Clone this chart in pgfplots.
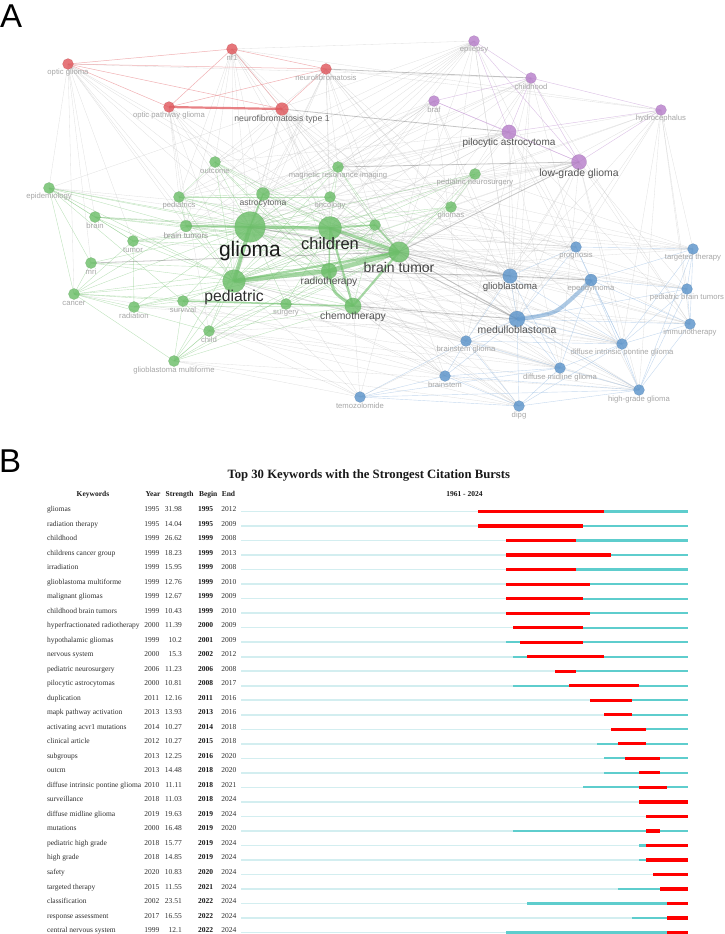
\documentclass[border=0pt]{standalone}
\usepackage{fontspec}
\setmainfont{Liberation Serif}
\setsansfont{Liberation Sans}
\usepackage{pgfplots}
\usepackage{pgfplotstable}
\pgfplotsset{compat=1.18}

% cluster colours of the keyword network
\definecolor{nodered}{HTML}{E0585D}
\definecolor{nodepurple}{HTML}{B77FCA}
\definecolor{nodegreen}{HTML}{6CBE69}
\definecolor{nodeblue}{HTML}{5C94CA}
\definecolor{edgegray}{HTML}{BABABA}
\definecolor{edgedark}{HTML}{7E7E7E}
\definecolor{edgegreen}{HTML}{8ACB87}
\definecolor{edgeblue}{HTML}{9DBFE3}
\definecolor{edgered}{HTML}{E8868A}
\definecolor{edgepurple}{HTML}{C79DD6}
% burst timeline colours
\definecolor{burstlight}{HTML}{D3EEF0}
\definecolor{burstbase}{HTML}{5ECDCD}
\definecolor{burstred}{HTML}{FF0000}

\pgfplotsset{
  edge/.style={quiver={u=\thisrow{x2}-\thisrow{x1}, v=\thisrow{y2}-\thisrow{y1}}},
  netnode/.style={scatter, only marks, mark=*,
    scatter/use mapped color={draw=#1!75!black, draw opacity=0.35, line width=0.3pt, fill=#1, fill opacity=0.82},
    visualization depends on={\thisrow{r} \as \noderad},
    scatter/@pre marker code/.append style={/tikz/mark size=\noderad pt}},
  netlabel/.style={draw=none, nodes near coords, point meta=explicit symbolic,
    visualization depends on={\thisrow{fs} \as \labfs},
    visualization depends on={\thisrow{dy} \as \labdy},
    visualization depends on={\thisrow{tone} \as \labtone},
    nodes near coords style={anchor=center, inner sep=0pt, yshift=-\labdy pt,
      font=\sffamily\fontsize{\labfs}{\labfs}\selectfont, text=black!\labtone}},
  tabtext/.style={draw=none, nodes near coords, point meta=explicit symbolic,
    nodes near coords style={anchor=#1, inner sep=0pt,
      font=\fontsize{7.5}{9}\selectfont, text=black!82}},
}

% keyword network: position, radius, label size, label offset, label tone
\pgfplotstableread[col sep=comma]{
x,y,r,fs,dy,tone,label
68,64,5.5,7.7,9,35,optic glioma
232,49,5.5,7.7,9,35,nf1
326,69,5.5,7.7,9,35,neurofibromatosis
169,107,5.5,7.7,9,35,optic pathway glioma
282,109,6.4,8.7,10,60,neurofibromatosis type 1
}\nodesred
\pgfplotstableread[col sep=comma]{
x,y,r,fs,dy,tone,label
474,41,5.5,7.7,9,35,epilepsy
531,78,5.5,7.7,9,35,childhood
434,101,5.5,7.7,9,35,braf
661,110,5.5,7.7,9,35,hydrocephalus
509,132,7.2,10,11,67,pilocytic astrocytoma
579,162,7.6,10.4,11.5,67,low-grade glioma
}\nodespurple
\pgfplotstableread[col sep=comma]{
x,y,r,fs,dy,tone,label
215,162,5.6,7.7,9,35,outcome
338,167,5.6,7.7,9,35,magnetic resonance imaging
49,188,5.6,7.7,9,35,epidemiology
179,197,5.6,7.7,9,35,pediatrics
263,194,6.6,8.6,10,60,astrocytoma
330,197,5.6,7.7,9,35,oncology
475,174,5.6,7.7,9,35,pediatric neurosurgery
451,207,5.6,7.7,9,35,gliomas
95,217,5.6,7.7,9,35,brain
186,226,5.8,8,9.5,42,brain tumors
250,227,15.3,21,24,90,glioma
330,228,11.6,16.5,16,85,children
375,225,5.6,7.7,9,35,
133,241,5.6,7.7,9,35,tumor
91,263,5.6,7.7,9,35,mri
234,281,11.4,15.7,16,82,pediatric
329,271,7.8,10.2,11,67,radiotherapy
399,252,10.3,14,15,75,brain tumor
74,294,5.6,7.7,9,35,cancer
134,307,5.6,7.7,9,35,radiation
183,301,5.6,7.7,9,35,survival
286,304,5.6,7.7,9,35,surgery
353,306,8.2,10.4,11,67,chemotherapy
209,331,5.6,7.7,9,35,child
174,361,5.6,7.7,9,35,glioblastoma multiforme
}\nodesgreen
\pgfplotstableread[col sep=comma]{
x,y,r,fs,dy,tone,label
360,397,5.5,7.7,9,35,temozolomide
576,247,5.5,7.7,9,35,prognosis
693,249,5.5,7.7,9,35,targeted therapy
510,276,7.3,9.7,11,67,glioblastoma
591,280,6,7.7,9,35,ependymoma
687,289,5.5,7.7,9,35,pediatric brain tumors
517,319,8,10.4,11,67,medulloblastoma
690,324,5.5,7.7,9,35,immunotherapy
466,341,5.5,7.7,9,35,brainstem glioma
622,344,5.5,7.7,9,35,diffuse intrinsic pontine glioma
560,368,5.5,7.7,9,35,diffuse midline glioma
445,376,5.5,7.7,9,35,brainstem
639,390,5.5,7.7,9,35,high-grade glioma
519,406,5.5,7.7,9,35,dipg
}\nodesblue

% citation bursts: row, keyword, first year, strength, burst begin, burst end
\pgfplotstableread[col sep=comma]{
row,kw,yr,str,bgn,fin
1,gliomas,1995,31.98,1995,2012
2,radiation therapy,1995,14.04,1995,2009
3,childhood,1999,26.62,1999,2008
4,childrens cancer group,1999,18.23,1999,2013
5,irradiation,1999,15.95,1999,2008
6,glioblastoma multiforme,1999,12.76,1999,2010
7,malignant gliomas,1999,12.67,1999,2009
8,childhood brain tumors,1999,10.43,1999,2010
9,hyperfractionated radiotherapy,2000,11.39,2000,2009
10,hypothalamic gliomas,1999,10.2,2001,2009
11,nervous system,2000,15.3,2002,2012
12,pediatric neurosurgery,2006,11.23,2006,2008
13,pilocytic astrocytomas,2000,10.81,2008,2017
14,duplication,2011,12.16,2011,2016
15,mapk pathway activation,2013,13.93,2013,2016
16,activating acvr1 mutations,2014,10.27,2014,2018
17,clinical article,2012,10.27,2015,2018
18,subgroups,2013,12.25,2016,2020
19,outcm,2013,14.48,2018,2020
20,diffuse intrinsic pontine glioma,2010,11.11,2018,2021
21,surveillance,2018,11.03,2018,2024
22,diffuse midline glioma,2019,19.63,2019,2024
23,mutations,2000,16.48,2019,2020
24,pediatric high grade,2018,15.77,2019,2024
25,high grade,2018,14.85,2019,2024
26,safety,2020,10.83,2020,2024
27,targeted therapy,2015,11.55,2021,2024
28,classification,2002,23.51,2022,2024
29,response assessment,2017,16.55,2022,2024
30,central nervous system,1999,12.1,2022,2024
}\bursts

\begin{document}
\begin{tikzpicture}
\useasboundingbox (0pt,0pt) rectangle (725pt,-934pt);

\node[anchor=base west, inner sep=0pt, font=\sffamily\fontsize{33}{33}\selectfont] at (0pt,-28pt) {A};
\node[anchor=base west, inner sep=0pt, font=\sffamily\fontsize{33}{33}\selectfont] at (-1pt,-472pt) {B};

% ---------------- co-occurrence network ----------------
\begin{axis}[at={(0pt,0pt)}, anchor=north west, x=1pt, y=1pt, y dir=reverse,
  xmin=0, xmax=725, ymin=0, ymax=420, hide axis, clip=false]

% links between clusters
\addplot[edge, draw=edgegray, line width=0.32pt, draw opacity=0.45] table[x=x1,y=y1] {
x1 y1 x2 y2
250 227 68 64
250 227 232 49
250 227 326 69
250 227 169 107
250 227 282 109
250 227 474 41
250 227 531 78
250 227 434 101
250 227 509 132
250 227 579 162
250 227 475 174
250 227 576 247
250 227 510 276
250 227 591 280
250 227 687 289
250 227 466 341
250 227 622 344
250 227 560 368
250 227 445 376
250 227 639 390
250 227 519 406
250 227 360 397
330 228 232 49
330 228 326 69
330 228 282 109
330 228 474 41
330 228 531 78
330 228 434 101
330 228 661 110
330 228 509 132
330 228 576 247
330 228 693 249
330 228 510 276
330 228 591 280
330 228 687 289
330 228 690 324
330 228 466 341
330 228 622 344
330 228 560 368
330 228 445 376
330 228 639 390
330 228 519 406
330 228 68 64
330 228 49 188
234 281 326 69
234 281 282 109
234 281 509 132
234 281 579 162
234 281 576 247
234 281 693 249
234 281 510 276
234 281 591 280
234 281 690 324
234 281 466 341
234 281 622 344
234 281 560 368
234 281 445 376
234 281 639 390
234 281 519 406
234 281 360 397
234 281 232 49
399 252 326 69
399 252 282 109
399 252 474 41
399 252 531 78
399 252 434 101
399 252 661 110
399 252 509 132
399 252 576 247
399 252 693 249
399 252 591 280
399 252 687 289
399 252 690 324
399 252 466 341
399 252 622 344
399 252 560 368
399 252 445 376
399 252 639 390
399 252 519 406
399 252 360 397
399 252 68 64
399 252 232 49
329 271 466 341
329 271 445 376
329 271 519 406
329 271 622 344
329 271 579 162
329 271 591 280
353 306 510 276
353 306 466 341
353 306 560 368
353 306 445 376
353 306 519 406
353 306 639 390
353 306 360 397
353 306 622 344
353 306 591 280
353 306 690 324
509 132 215 162
509 132 338 167
509 132 179 197
509 132 263 194
509 132 330 197
509 132 451 207
509 132 186 226
509 132 576 247
509 132 510 276
509 132 517 319
509 132 690 324
509 132 560 368
509 132 639 390
579 162 263 194
579 162 330 197
579 162 451 207
579 162 186 226
579 162 133 241
579 162 510 276
579 162 517 319
579 162 622 344
579 162 687 289
579 162 690 324
579 162 639 390
579 162 466 341
579 162 560 368
661 110 576 247
661 110 693 249
661 110 687 289
661 110 690 324
661 110 517 319
661 110 622 344
661 110 639 390
661 110 510 276
661 110 338 167
661 110 475 174
474 41 338 167
474 41 330 197
474 41 263 194
474 41 451 207
474 41 186 226
474 41 215 162
474 41 179 197
474 41 49 188
474 41 510 276
474 41 517 319
474 41 576 247
474 41 232 49
531 78 576 247
531 78 510 276
531 78 451 207
531 78 338 167
531 78 263 194
531 78 517 319
531 78 466 341
531 78 690 324
531 78 68 64
434 101 338 167
434 101 263 194
434 101 186 226
434 101 179 197
434 101 330 197
434 101 517 319
434 101 510 276
434 101 466 341
232 49 215 162
232 49 263 194
232 49 338 167
232 49 186 226
232 49 179 197
232 49 330 197
232 49 661 110
232 49 517 319
326 69 338 167
326 69 263 194
326 69 330 197
326 69 451 207
326 69 375 225
326 69 215 162
326 69 510 276
326 69 517 319
326 69 622 344
326 69 661 110
68 64 49 188
68 64 95 217
68 64 186 226
68 64 91 263
68 64 179 197
68 64 133 241
68 64 74 294
68 64 234 281
68 64 329 271
169 107 179 197
169 107 186 226
169 107 263 194
169 107 215 162
169 107 234 281
169 107 399 252
169 107 209 331
282 109 263 194
282 109 338 167
282 109 330 197
282 109 186 226
282 109 179 197
282 109 329 271
282 109 353 306
282 109 517 319
282 109 510 276
517 319 360 397
517 319 209 331
517 319 286 304
510 276 186 226
510 276 263 194
576 247 330 197
576 247 338 167
693 249 338 167
693 249 451 207
693 249 475 174
687 289 451 207
687 289 330 197
690 324 451 207
690 324 375 225
622 344 375 225
639 390 375 225
360 397 209 331
360 397 174 361
360 397 183 301
639 390 209 331
519 406 209 331
560 368 209 331
445 376 209 331
519 406 174 361
639 390 174 361
466 341 183 301
445 376 183 301
622 344 134 307
560 368 74 294
591 280 133 241
576 247 95 217
693 249 49 188
};

% links inside the green cluster
\addplot[edge, draw=edgegreen, line width=0.4pt, draw opacity=0.55] table[x=x1,y=y1] {
x1 y1 x2 y2
49 188 95 217
49 188 133 241
49 188 91 263
49 188 74 294
49 188 250 227
49 188 186 226
49 188 234 281
49 188 399 252
49 188 183 301
95 217 250 227
95 217 330 228
95 217 133 241
95 217 234 281
95 217 399 252
95 217 186 226
133 241 250 227
133 241 330 228
133 241 234 281
133 241 399 252
133 241 134 307
133 241 74 294
91 263 250 227
91 263 234 281
91 263 74 294
91 263 329 271
74 294 234 281
74 294 250 227
74 294 134 307
74 294 183 301
74 294 209 331
74 294 174 361
74 294 399 252
74 294 186 226
74 294 286 304
134 307 234 281
134 307 250 227
134 307 183 301
134 307 353 306
134 307 399 252
183 301 234 281
183 301 250 227
183 301 209 331
183 301 174 361
209 331 234 281
209 331 250 227
209 331 329 271
209 331 399 252
209 331 353 306
174 361 209 331
174 361 234 281
174 361 250 227
174 361 399 252
174 361 330 228
174 361 353 306
174 361 329 271
215 162 250 227
215 162 330 228
215 162 234 281
215 162 399 252
215 162 263 194
215 162 179 197
215 162 329 271
215 162 353 306
338 167 250 227
338 167 330 228
338 167 234 281
338 167 399 252
338 167 263 194
338 167 330 197
338 167 375 225
179 197 250 227
179 197 330 228
179 197 234 281
179 197 263 194
179 197 330 197
179 197 399 252
179 197 186 226
263 194 330 228
263 194 234 281
263 194 399 252
263 194 330 197
263 194 329 271
330 197 250 227
330 197 234 281
330 197 399 252
330 197 375 225
475 174 250 227
475 174 330 228
475 174 399 252
475 174 234 281
475 174 451 207
451 207 250 227
451 207 330 228
451 207 234 281
451 207 399 252
451 207 329 271
186 226 330 228
186 226 234 281
186 226 399 252
186 226 329 271
375 225 250 227
375 225 234 281
375 225 329 271
375 225 353 306
286 304 250 227
286 304 330 228
286 304 329 271
286 304 399 252
250 227 329 271
250 227 353 306
330 228 234 281
234 281 353 306
};

% links inside the blue cluster
\addplot[edge, draw=edgeblue, line width=0.4pt, draw opacity=0.6] table[x=x1,y=y1] {
x1 y1 x2 y2
510 276 517 319
510 276 576 247
510 276 466 341
510 276 560 368
510 276 622 344
517 319 466 341
517 319 560 368
517 319 519 406
517 319 622 344
517 319 445 376
517 319 639 390
517 319 576 247
517 319 687 289
517 319 690 324
466 341 622 344
466 341 445 376
466 341 519 406
466 341 560 368
622 344 560 368
622 344 639 390
622 344 690 324
622 344 693 249
622 344 687 289
622 344 519 406
622 344 591 280
622 344 576 247
560 368 639 390
560 368 519 406
560 368 445 376
560 368 591 280
445 376 519 406
445 376 639 390
639 390 690 324
639 390 687 289
639 390 693 249
639 390 519 406
639 390 591 280
693 249 687 289
687 289 690 324
693 249 690 324
576 247 591 280
576 247 693 249
591 280 687 289
591 280 690 324
591 280 693 249
360 397 519 406
360 397 639 390
360 397 445 376
360 397 466 341
360 397 560 368
};

% links inside the red cluster
\addplot[edge, draw=edgered, line width=0.5pt, draw opacity=0.65] table[x=x1,y=y1] {
x1 y1 x2 y2
68 64 232 49
68 64 326 69
68 64 282 109
232 49 326 69
232 49 169 107
232 49 282 109
326 69 169 107
326 69 282 109
68 64 169 107
};

% links inside the purple cluster
\addplot[edge, draw=edgepurple, line width=0.45pt, draw opacity=0.6] table[x=x1,y=y1] {
x1 y1 x2 y2
474 41 509 132
474 41 579 162
474 41 531 78
531 78 509 132
531 78 579 162
531 78 661 110
434 101 509 132
434 101 579 162
661 110 509 132
661 110 579 162
509 132 579 162
434 101 531 78
};

% strongest links
\addplot[edge, draw=edgedark, line width=0.8pt, draw opacity=0.45] table[x=x1,y=y1] {
x1 y1 x2 y2
399 252 510 276
399 252 517 319
330 228 517 319
353 306 517 319
329 271 510 276
510 276 591 280
250 227 399 252
282 109 509 132
579 162 338 167
399 252 579 162
531 78 326 69
91 263 399 252
};
\addplot[edge, draw=nodegreen, line width=1.5pt, draw opacity=0.6] table[x=x1,y=y1] {
x1 y1 x2 y2
183 301 286 304
286 304 353 306
250 227 263 194
330 228 375 225
375 225 399 252
330 228 329 271
};
\addplot[edge, draw=nodegreen, line width=2.2pt, draw opacity=0.6] table[x=x1,y=y1] {
x1 y1 x2 y2
186 226 250 227
399 252 353 306
330 228 353 306
234 281 399 252
};
\addplot[edge, draw=nodegreen, line width=3pt, draw opacity=0.6] table[x=x1,y=y1] {
x1 y1 x2 y2
250 227 330 228
330 228 399 252
};
\addplot[edge, draw=nodegreen, line width=4pt, draw opacity=0.6] table[x=x1,y=y1] {
x1 y1 x2 y2
250 227 234 281
};
\addplot[edge, draw=nodegreen, line width=4.6pt, draw opacity=0.6] table[x=x1,y=y1] {
x1 y1 x2 y2
234 281 329 271
329 271 399 252
};
\addplot[draw=nodegreen, line width=3pt, draw opacity=0.6, smooth] coordinates {(329,271) (335,292) (353,306)};
\addplot[draw=nodeblue, line width=4pt, draw opacity=0.5, smooth] coordinates {(517,319) (556,311) (591,280)};
\addplot[edge, draw=nodered, line width=2.2pt, draw opacity=0.75] table[x=x1,y=y1] {
x1 y1 x2 y2
169 107 282 109
};

% nodes
\addplot[netnode=nodered] table[x=x,y=y] {\nodesred};
\addplot[netnode=nodepurple] table[x=x,y=y] {\nodespurple};
\addplot[netnode=nodegreen] table[x=x,y=y] {\nodesgreen};
\addplot[netnode=nodeblue] table[x=x,y=y] {\nodesblue};

% labels
\addplot[netlabel] table[x=x,y=y,meta=label] {\nodesred};
\addplot[netlabel] table[x=x,y=y,meta=label] {\nodespurple};
\addplot[netlabel] table[x=x,y=y,meta=label] {\nodesgreen};
\addplot[netlabel] table[x=x,y=y,meta=label] {\nodesblue};
\end{axis}

% ---------------- citation bursts ----------------
\begin{axis}[at={(241pt,-511.5pt)}, anchor=north west, x=6.984pt, y=14.52pt, y dir=reverse,
  xmin=1961, xmax=2025, ymin=1, ymax=30, hide axis, clip=false]

% whole period, period since first appearance, burst
\addplot[draw=burstlight, line width=1.6pt, quiver={u=64, v=0}] table[x expr=1961, y=row] {\bursts};
\addplot[draw=burstbase, line width=2.2pt, quiver={u=2025-\thisrow{yr}, v=0}] table[x=yr, y=row] {\bursts};
\addplot[draw=burstred, line width=3.2pt, quiver={u=\thisrow{fin}+1-\thisrow{bgn}, v=0}] table[x=bgn, y=row] {\bursts};

% table columns
\addplot[tabtext=base west] table[x expr=1933.2, y=row, meta=kw] {\bursts};
\addplot[tabtext=base] table[x expr=1948.23, y=row, meta=yr] {\bursts};
\addplot[tabtext=base east] table[x expr=1952.55, y=row, meta=str] {\bursts};
\addplot[tabtext=base, nodes near coords style={font=\bfseries\fontsize{7.5}{9}\selectfont, text=black!90}] table[x expr=1955.92, y=row, meta=bgn] {\bursts};
\addplot[tabtext=base] table[x expr=1959.28, y=row, meta=fin] {\bursts};

% header
\node[font=\bfseries\fontsize{12.7}{15}\selectfont, text=black!90] at (axis cs:1979.3,-1.45) {Top 30 Keywords with the Strongest Citation Bursts};
\begin{scope}[every node/.style={anchor=base, inner sep=0pt, font=\bfseries\fontsize{7.5}{9}\selectfont, text=black!90}]
\node at (axis cs:1939.8,0) {Keywords};
\node at (axis cs:1948.4,0) {Year};
\node at (axis cs:1952.2,0) {Strength};
\node at (axis cs:1956.3,0) {Begin};
\node at (axis cs:1959.2,0) {End};
\node at (axis cs:1993,0) {1961 - 2024};
\end{scope}
\end{axis}
\end{tikzpicture}
\end{document}
